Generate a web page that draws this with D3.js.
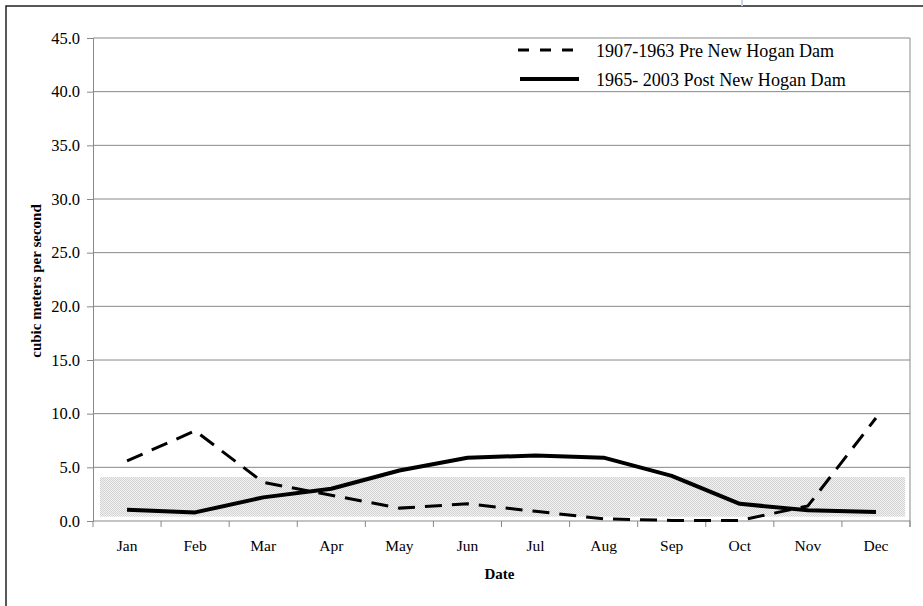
<!DOCTYPE html>
<html><head><meta charset="utf-8">
<script src="https://cdn.jsdelivr.net/npm/d3@7/dist/d3.min.js"></script>
<style>body{margin:0;background:#fff}svg{display:block}</style>
</head><body>
<svg id="c" width="923" height="606"></svg>
<script>
const months = ["Jan","Feb","Mar","Apr","May","Jun","Jul","Aug","Sep","Oct","Nov","Dec"];
const preDam = [5.6, 8.4, 3.6, 2.4, 1.2, 1.6, 0.9, 0.2, 0.05, 0.05, 1.4, 9.6];
const postDam = [1.05, 0.8, 2.2, 3.0, 4.7, 5.9, 6.1, 5.9, 4.2, 1.6, 1.0, 0.85];
const bandRange = [0.4, 4.1];
const yTicks = [0, 5, 10, 15, 20, 25, 30, 35, 40, 45];
const legendLabels = ["1907-1963 Pre New Hogan Dam", "1965- 2003 Post New Hogan Dam"];

const svg = d3.select("#c");
const L = 93, R = 910, T = 38, B = 521;
const x = d3.scaleBand().domain(months).range([L, R]).padding(0);
const y = d3.scaleLinear().domain([0, 45]).range([B, T]);
const cx = m => x(m) + x.bandwidth() / 2;
const serif = "'Liberation Serif','Times New Roman',serif";

// outer border
svg.append("path").attr("d", "M6,606 L6,6 L923,6").attr("fill", "none").attr("stroke", "#222").attr("stroke-width", 1.5);
svg.append("rect").attr("x", 741).attr("y", 0).attr("width", 2).attr("height", 6).attr("fill", "#c8d4f4");

// pattern for band
const defs = svg.append("defs");
const pat = defs.append("pattern").attr("id", "dither").attr("patternUnits", "userSpaceOnUse").attr("width", 2).attr("height", 2);
pat.append("rect").attr("width", 2).attr("height", 2).attr("fill", "#f2f2f2");
pat.append("rect").attr("width", 1).attr("height", 1).attr("fill", "#d2d2d2");
pat.append("rect").attr("x", 1).attr("y", 1).attr("width", 1).attr("height", 1).attr("fill", "#d2d2d2");

// gridlines
svg.append("g").selectAll("line").data(yTicks.filter(d => d > 0)).join("line")
  .attr("x1", L).attr("x2", R).attr("y1", d => y(d)).attr("y2", d => y(d))
  .attr("stroke", "#888").attr("stroke-width", 1);

// band
svg.append("rect")
  .attr("x", x(months[0]) + 7)
  .attr("width", (x(months[11]) + x.bandwidth() - 5) - (x(months[0]) + 7))
  .attr("y", y(bandRange[1])).attr("height", y(bandRange[0]) - y(bandRange[1]))
  .attr("fill", "url(#dither)");

// right border of plot
svg.append("line").attr("x1", R).attr("x2", R).attr("y1", T).attr("y2", B + 6).attr("stroke", "#888");

// y axis
const yAxis = d3.axisLeft(y).tickValues(yTicks).tickFormat(d3.format(".1f")).tickSize(6).tickPadding(7);
const gy = svg.append("g").attr("transform", `translate(${L},0)`).call(yAxis);
gy.select(".domain").attr("stroke", "#888");
gy.selectAll(".tick line").attr("stroke", "#888");
gy.selectAll("text").attr("font-family", serif).attr("font-size", 16.5).attr("fill", "#000");

// x axis
const xAxis = d3.axisBottom(x).tickSize(0).tickPadding(19);
const gx = svg.append("g").attr("transform", `translate(0,${B})`).call(xAxis);
gx.select(".domain").attr("stroke", "#888").attr("d", `M${L},0H${R}`);
gx.selectAll("text").attr("font-family", serif).attr("font-size", 15.5).attr("fill", "#000");
svg.append("g").selectAll("line").data(months.concat(["_end"])).join("line")
  .attr("x1", (d, i) => i < 12 ? x(d) : R).attr("x2", (d, i) => i < 12 ? x(d) : R)
  .attr("y1", B).attr("y2", B + 6).attr("stroke", "#888");

// lines
const line = d3.line().x((d, i) => cx(months[i])).y(d => y(d));
svg.append("path").datum(preDam).attr("d", line).attr("fill", "none")
  .attr("stroke", "#000").attr("stroke-width", 3).attr("stroke-dasharray", "17,10");
svg.append("path").datum(postDam).attr("d", line).attr("fill", "none")
  .attr("stroke", "#000").attr("stroke-width", 4).attr("stroke-linejoin", "round");

// axis titles
svg.append("text").attr("x", (L + R) / 2 - 2).attr("y", 579).attr("text-anchor", "middle")
  .attr("font-family", serif).attr("font-weight", "bold").attr("font-size", 15).text("Date");
svg.append("text").attr("transform", `translate(41,281) rotate(-90)`).attr("text-anchor", "middle")
  .attr("font-family", serif).attr("font-weight", "bold").attr("font-size", 15).text("cubic meters per second");

// legend
const lg = svg.append("g");
lg.append("line").attr("x1", 518).attr("x2", 574).attr("y1", 50).attr("y2", 50)
  .attr("stroke", "#000").attr("stroke-width", 3).attr("stroke-dasharray", "11,11");
lg.append("line").attr("x1", 520).attr("x2", 579).attr("y1", 79).attr("y2", 79)
  .attr("stroke", "#000").attr("stroke-width", 4);
lg.selectAll("text").data(legendLabels).join("text")
  .attr("x", 596).attr("y", (d, i) => 57 + i * 29)
  .attr("font-family", serif).attr("font-size", 18.1).text(d => d);
</script>
</body></html>
